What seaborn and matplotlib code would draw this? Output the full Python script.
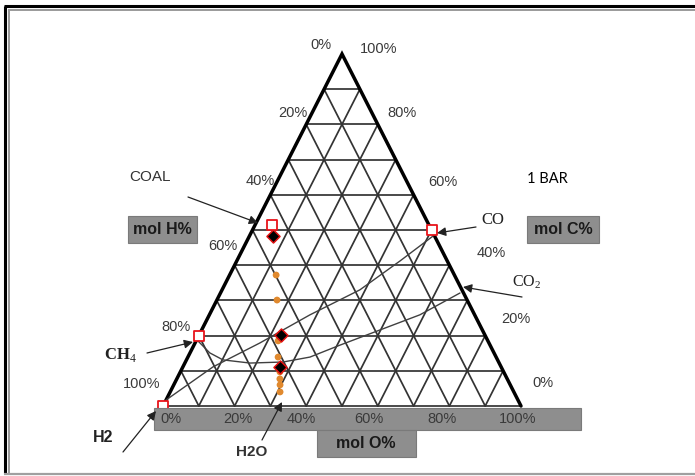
import matplotlib
matplotlib.use("Agg")
import matplotlib.pyplot as plt
from matplotlib.patches import Rectangle
import numpy as np
import pandas as pd
import seaborn as sns

sns.set_theme(style="white")
plt.rcParams["font.family"] = ["Liberation Sans", "DejaVu Sans"]
plt.rcParams["mathtext.fontset"] = "custom"
plt.rcParams["mathtext.rm"] = "Liberation Serif"

# ---- data (mol %) : C = carbon, O = oxygen, H = 100 - C - O ----
pct_labels = ["0%", "20%", "40%", "60%", "80%", "100%"]

# pure species (open squares): H2, CH4, CO, coal
species = ["H2", "CH4", "CO", "COAL"]
species_C = [0.0, 20.0, 50.0, 51.4]
species_O = [0.0, 0.0, 50.0, 4.7]

# equilibrium compositions (diamonds)
eq_C = [48.3, 20.2, 11.1]
eq_O = [6.6, 22.9, 27.1]

# gasification path (orange dots)
path_C = [37.2, 30.1, 18.5, 13.9, 11.4, 9.7, 7.7, 6.0, 4.0]
path_O = [13.0, 16.8, 22.9, 25.2, 27.0, 27.8, 28.8, 29.7, 30.7]

# boundary curves
curve_a_C = [1.7, 11.1, 17.9, 25.9, 33.0, 41.2, 48.3]
curve_a_O = [0.0, 8.4, 18.1, 28.1, 38.5, 45.6, 51.3]
curve_b_C = [18.5, 15.1, 13.1, 12.2, 12.5, 13.9, 17.3, 21.6, 25.9, 32.1]
curve_b_O = [0.5, 5.5, 10.2, 18.2, 27.3, 34.1, 40.8, 49.8, 58.8, 66.9]


def tern(C, O):
    """Ternary (C%, O%) -> plane coordinates; H vertex bottom-left, O bottom-right, C on top."""
    C = np.asarray(C, float) / 100.0
    O = np.asarray(O, float) / 100.0
    return O + C / 2.0, C


# ---- figure: the axes span the whole canvas, triangle base from px 163..521, apex at px 54 ----
W, H = 695, 476
X0, X1, YB, YT = 163.0, 521.0, 406.0, 54.0
SX, SY = X1 - X0, YB - YT

fig = plt.figure(figsize=(W / 100, H / 100), dpi=100)
ax = fig.add_axes([0, 0, 1, 1])
ax.set_xlim(-X0 / SX, (W - X0) / SX)
ax.set_ylim((YB - H) / SY, YB / SY)
ax.axis("off")


def at(px, py):
    return (px - X0) / SX, (YB - py) / SY


# outer frame
def seg(p, q, **kw):
    a, b = at(*p), at(*q)
    ax.plot([a[0], b[0]], [a[1], b[1]], solid_capstyle="butt", clip_on=False, **kw)


seg((4, 6.5), (695, 6.5), color="black", lw=2.2, zorder=1)
seg((5, 6), (5, 474), color="black", lw=2.2, zorder=1)
seg((8, 10), (695, 10), color="#9a9a9a", lw=1.4, zorder=1)
seg((8.5, 10), (8.5, 474), color="#9a9a9a", lw=1.4, zorder=1)
seg((4, 474), (695, 474), color="#a0a0a0", lw=1.6, zorder=1)

# triangle grid
grid_kw = dict(color="#333333", lw=1.25, zorder=2)
for k in range(1, 10):
    c = k / 10
    ax.plot([c / 2, 1 - c / 2], [c, c], **grid_kw)          # constant C
    ax.plot([c, c + (1 - c) / 2], [0, 1 - c], **grid_kw)    # constant O
    ax.plot([1 - c, (1 - c) / 2], [0, 1 - c], **grid_kw)    # constant H
ax.plot([0, 0.5, 1], [0, 1, 0], color="black", lw=2.5, zorder=3,
        solid_joinstyle="miter")
ax.plot([0, 1], [0, 0], color="#333333", lw=1.25, zorder=2)

# boundary curves
ax_x, ax_y = tern(curve_a_C, curve_a_O)
bx_x, bx_y = tern(curve_b_C, curve_b_O)
curves = pd.concat([
    pd.DataFrame({"x": ax_x, "y": ax_y, "curve": "a"}),
    pd.DataFrame({"x": bx_x, "y": bx_y, "curve": "b"}),
])
sns.lineplot(data=curves, x="x", y="y", units="curve", estimator=None, sort=False,
             color="#404040", lw=1.0, ax=ax, zorder=4)

# gasification path
px_, py_ = tern(path_C, path_O)
sns.scatterplot(x=px_, y=py_, color="#E0892E", s=24, edgecolor="none", ax=ax, zorder=6)

# equilibrium diamonds
ex, ey = tern(eq_C, eq_O)
sns.scatterplot(x=ex, y=ey, marker="D", color="black", edgecolor="#e01010",
                linewidth=1.1, s=44, ax=ax, zorder=7)

# pure species squares
sx_, sy_ = tern(species_C, species_O)
sns.scatterplot(x=sx_, y=sy_, marker="s", color="white", edgecolor="#e8141a",
                linewidth=1.3, s=52, ax=ax, zorder=7)


# gray label boxes
def box(x0, y0, x1, y1, z=8):
    a = at(x0, y1)
    ax.add_patch(Rectangle(a, (x1 - x0) / SX, (y1 - y0) / SY, facecolor="#8e8e8e",
                           edgecolor="#7a7a7a", lw=0.8, zorder=z, clip_on=False))


box(154, 408, 581, 430)
box(317, 430, 416, 457)
box(128, 216, 197, 243)
box(527, 216, 599, 243)

bold_kw = dict(fontsize=11.5, fontweight="bold", color="#1a1a1a", ha="center",
               va="center", zorder=9)
ax.text(*at(162.5, 230), "mol H%", **bold_kw)
ax.text(*at(563, 230), "mol C%", **bold_kw)
ax.text(*at(366, 444), "mol O%", **bold_kw)

# percentage scales
tick_kw = dict(fontsize=10.5, color="#3a3a3a", ha="center", va="center", zorder=9)
h_pos = [(321, 45), (293, 113), (260, 181), (223, 246), (176, 327), (142, 384)]
c_pos = [(543, 383), (516, 319), (491, 253), (443, 182), (402, 113), (379, 49)]
o_pos = [(171, 419), (238, 419), (301, 419), (369, 419), (442, 419), (518, 419)]
for lab, p in zip(pct_labels, h_pos):
    ax.text(*at(*p), lab, **tick_kw)
for lab, p in zip(pct_labels, c_pos):
    ax.text(*at(*p), lab, **tick_kw)
for lab, p in zip(pct_labels, o_pos):
    ax.text(*at(*p), lab, **tick_kw)

ax.text(*at(547, 179), "1 BAR", fontsize=10.5, family=["Lato", "DejaVu Sans"],
        color="black", ha="center", va="center")

# species annotations
arrow = dict(arrowstyle="-|>", color="#222222", lw=0.9, mutation_scale=13,
             shrinkA=0, shrinkB=0)
notes = [
    ("COAL", (150, 177), (188, 197), (258, 223),
     dict(fontsize=11, color="#333333")),
    ("CO", (493, 220), (476, 227), (437, 233),
     dict(fontsize=12, family=["Liberation Serif"], color="#222222")),
    (r"CO$_\mathrm{2}$", (527, 282), (522, 297), (463, 287),
     dict(fontsize=11.5, family=["Liberation Serif"], color="#222222")),
    (r"CH$_\mathrm{4}$", (120, 355), (147, 353), (193, 342),
     dict(fontsize=12, family=["Liberation Serif"], fontweight="bold", color="#222222")),
    ("H2", (103, 437), (123, 452), (156, 411),
     dict(fontsize=11.5, fontweight="bold", color="#222222")),
    ("H2O", (252, 452), (262, 440), (282, 402),
     dict(fontsize=11, fontweight="bold", color="#333333")),
]
for text, tp, tail, tip, kw in notes:
    ax.text(*at(*tp), text, ha="center", va="center", zorder=9, **kw)
    ax.annotate("", xy=at(*tip), xytext=at(*tail), arrowprops=arrow, zorder=10,
                annotation_clip=False)

fig.savefig("out.png", dpi=100)
